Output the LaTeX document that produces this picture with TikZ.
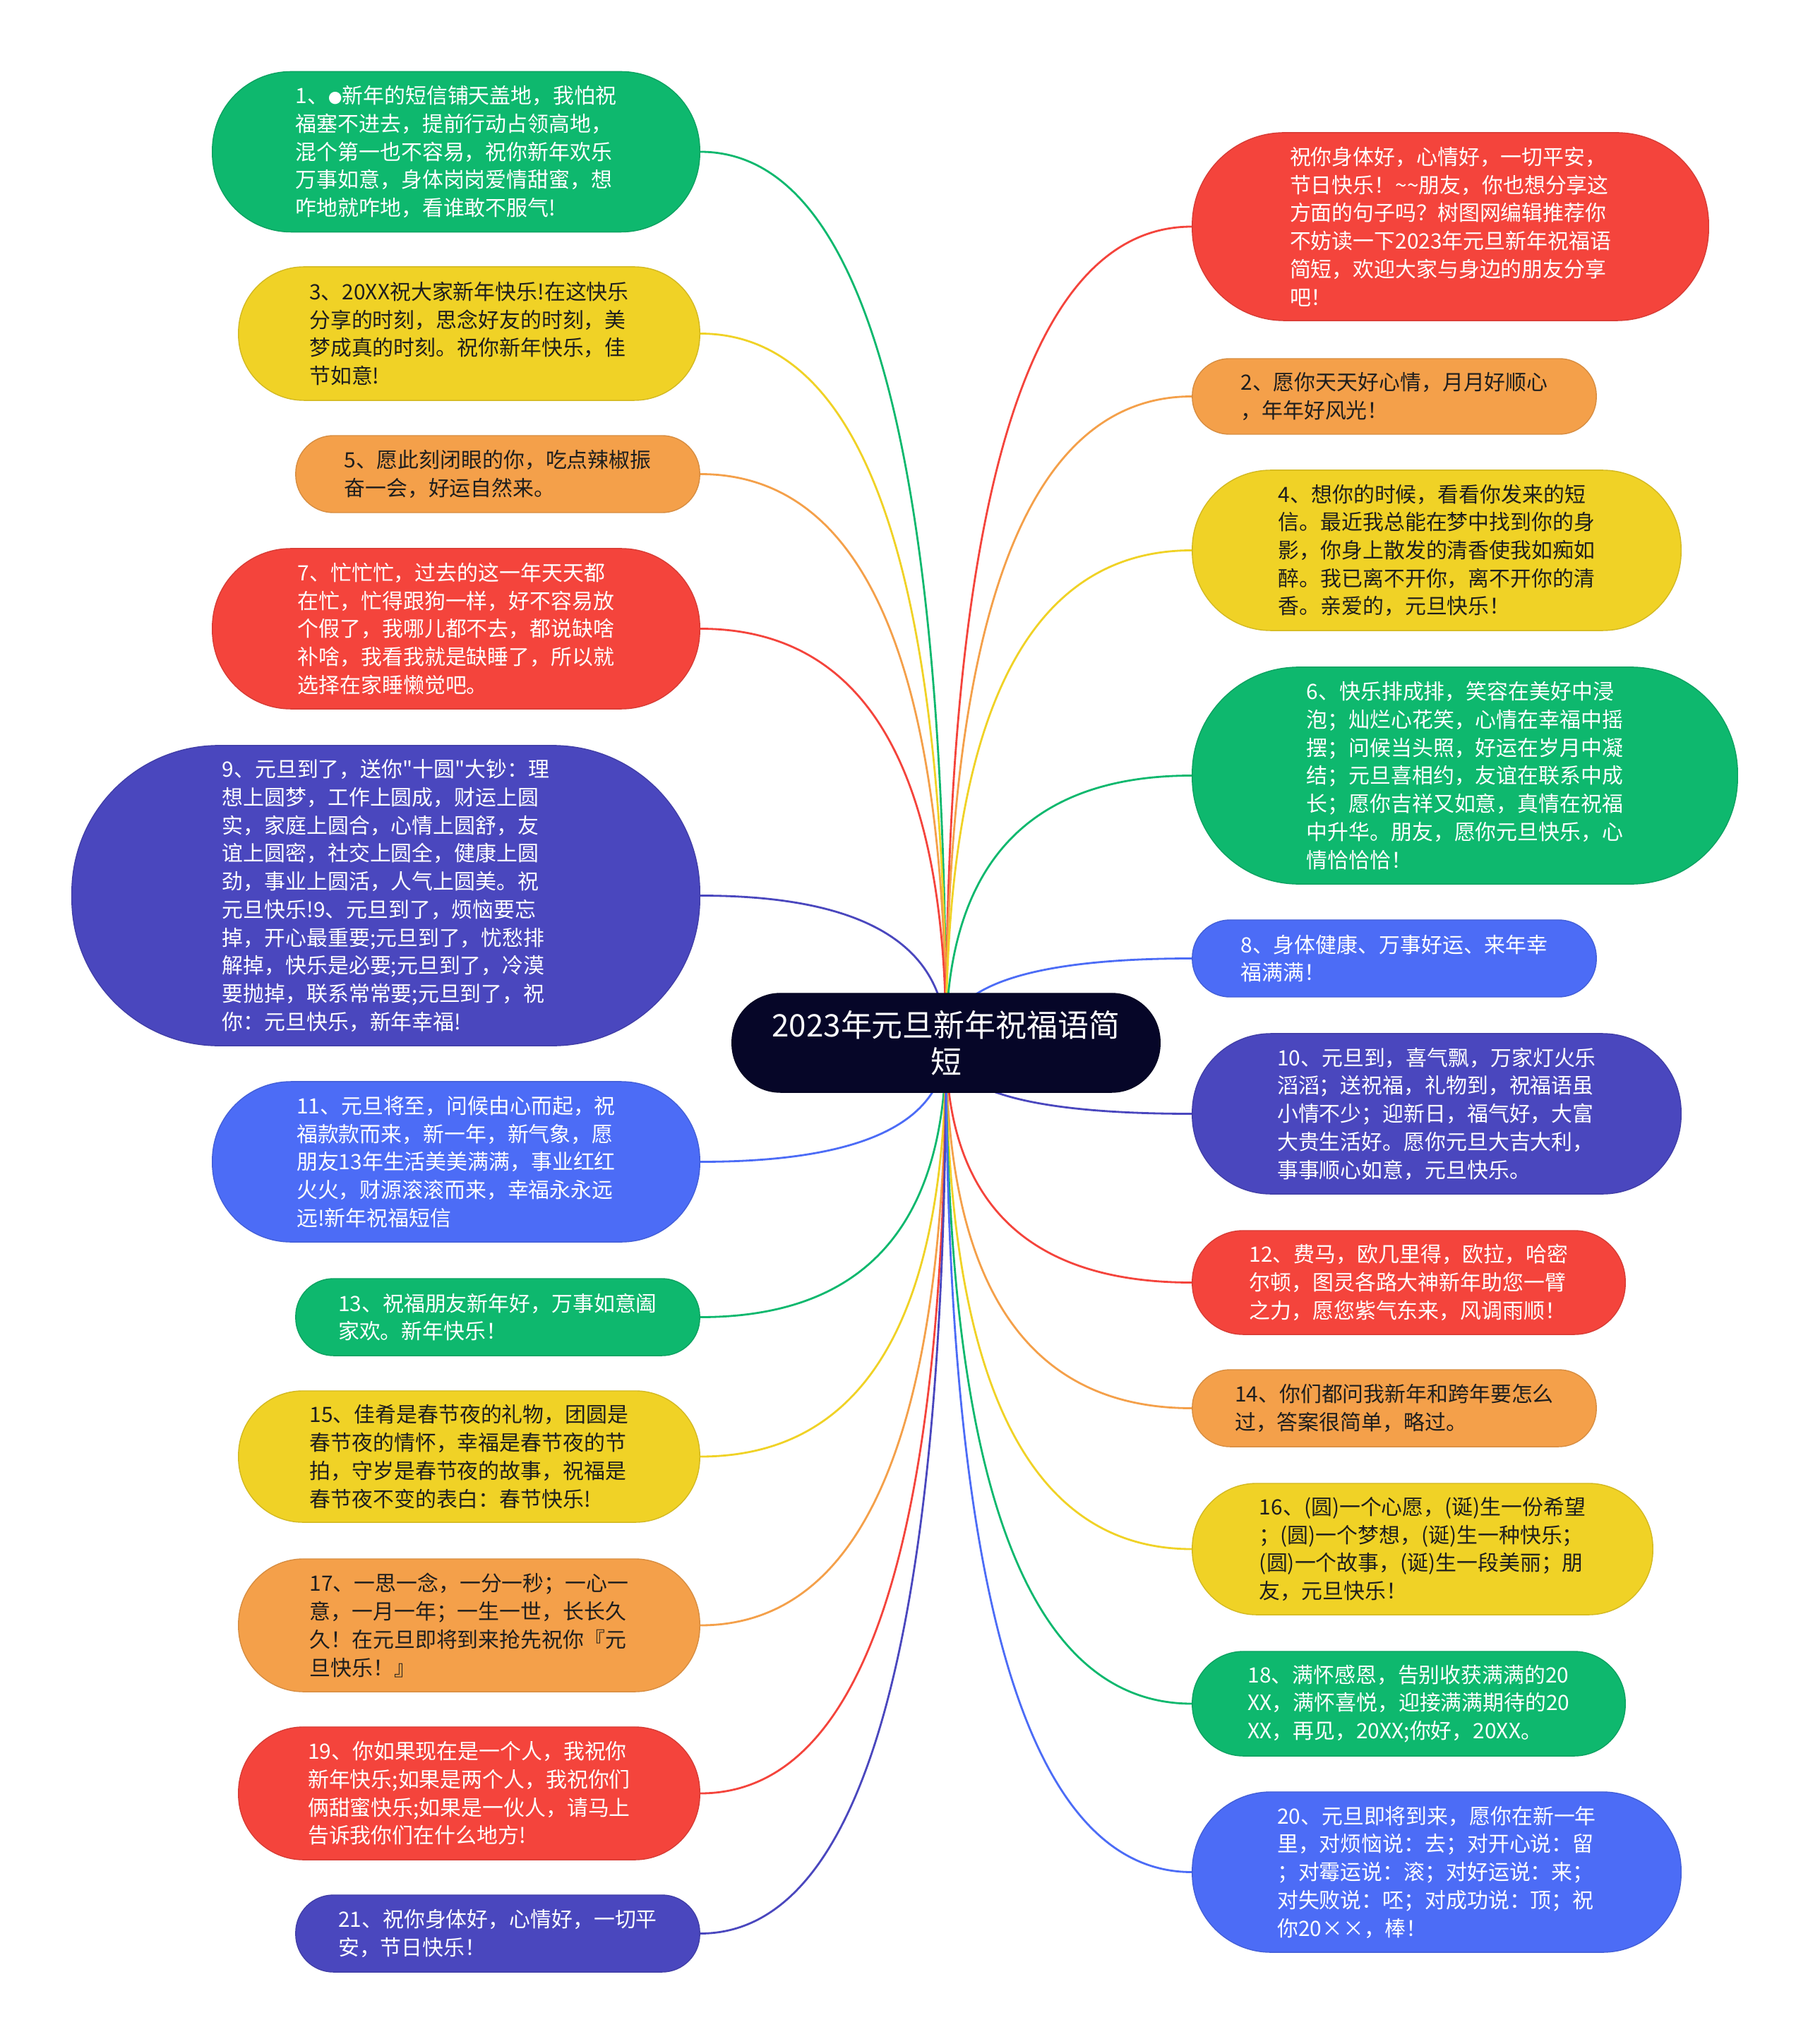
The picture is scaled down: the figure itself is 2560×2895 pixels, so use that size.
\documentclass[tikz,border=0pt]{standalone}
\usepackage{fontspec}
\newfontfamily\cjk{Noto Sans CJK SC}
\usetikzlibrary{backgrounds, calc}

\definecolor{cgreen}{RGB}{14,184,110}
\definecolor{cyellow}{RGB}{240,210,38}
\definecolor{corange}{RGB}{244,160,74}
\definecolor{cred}{RGB}{244,68,60}
\definecolor{cindigo}{RGB}{74,71,190}
\definecolor{cblue}{RGB}{76,108,246}
\definecolor{croot}{RGB}{6,6,40}
\definecolor{inkdark}{RGB}{30,30,30}

\begin{document}
\begin{tikzpicture}[
    x=0.01cm, y=-0.01cm,
    leaf/.style={
        rectangle,
        fill=#1,
        draw=#1!88!black,
        line width=0.4pt,
        text=white,
        align=left,
        font=\cjk\fontsize{8.5}{11.3}\selectfont,
        inner sep=0pt
    },
    pill/.style 2 args={
        minimum width=#1cm,
        minimum height=#2cm,
        rounded corners=0.49*#2cm
    },
    dark/.style={text=inkdark},
    link/.style={
        draw=#1,
        line width=0.8pt,
        to path={.. controls ($(\tikztostart)!0.667!(\tikztostart |- \tikztotarget)$)
            and ($(\tikztotarget)!0.667!(\tikztostart |- \tikztotarget)$) .. (\tikztotarget)}
    }
]
\useasboundingbox (0,0) rectangle (2560,2895);

% --- root ---
\node[leaf=croot, pill={6.06}{1.40}, align=center, font=\cjk\fontsize{12.5}{14.8}\selectfont] (root) at (1340,1477) {2023年元旦新年祝福语简\\短};

% --- left branch ---
\node[leaf=cgreen, pill={6.90}{2.27}] (n1) at (646,215) {1、{\fontsize{5.5}{5.5}\selectfont ●}新年的短信铺天盖地，我怕祝\\福塞不进去，提前行动占领高地，\\混个第一也不容易，祝你新年欢乐\\万事如意，身体岗岗爱情甜蜜，想\\咋地就咋地，看谁敢不服气!};
\node[leaf=cyellow, dark, pill={6.53}{1.89}] (n3) at (664.5,472.5) {3、20XX祝大家新年快乐!在这快乐\\分享的时刻，思念好友的时刻，美\\梦成真的时刻。祝你新年快乐，佳\\节如意!};
\node[leaf=corange, dark, pill={5.72}{1.09}] (n5) at (705,671.5) {5、愿此刻闭眼的你，吃点辣椒振\\奋一会，好运自然来。};
\node[leaf=cred, pill={6.90}{2.27}] (n7) at (646,890.5) {7、忙忙忙，过去的这一年天天都\\在忙，忙得跟狗一样，好不容易放\\个假了，我哪儿都不去，都说缺啥\\补啥，我看我就是缺睡了，所以就\\选择在家睡懒觉吧。};
\node[leaf=cindigo, pill={8.89}{4.25}] (n9) at (546.5,1268.5) {9、元旦到了，送你"十圆"大钞：理\\想上圆梦，工作上圆成，财运上圆\\实，家庭上圆合，心情上圆舒，友\\谊上圆密，社交上圆全，健康上圆\\劲，事业上圆活，人气上圆美。祝\\元旦快乐!9、元旦到了，烦恼要忘\\掉，开心最重要;元旦到了，忧愁排\\解掉，快乐是必要;元旦到了，冷漠\\要抛掉，联系常常要;元旦到了，祝\\你：元旦快乐，新年幸福!};
\node[leaf=cblue, pill={6.90}{2.27}] (n11) at (646,1645.5) {11、元旦将至，问候由心而起，祝\\福款款而来，新一年，新气象，愿\\朋友13年生活美美满满，事业红红\\火火，财源滚滚而来，幸福永永远\\远!新年祝福短信};
\node[leaf=cgreen, pill={5.72}{1.09}] (n13) at (705,1865.5) {13、祝福朋友新年好，万事如意阖\\家欢。新年快乐！};
\node[leaf=cyellow, dark, pill={6.53}{1.86}] (n15) at (664.5,2063) {15、佳肴是春节夜的礼物，团圆是\\春节夜的情怀，幸福是春节夜的节\\拍，守岁是春节夜的故事，祝福是\\春节夜不变的表白：春节快乐!};
\node[leaf=corange, dark, pill={6.53}{1.88}] (n17) at (664.5,2302) {17、一思一念，一分一秒；一心一\\意，一月一年；一生一世，长长久\\久！在元旦即将到来抢先祝你『元\\旦快乐！』};
\node[leaf=cred, pill={6.53}{1.88}] (n19) at (664.5,2540) {19、你如果现在是一个人，我祝你\\新年快乐;如果是两个人，我祝你们\\俩甜蜜快乐;如果是一伙人，请马上\\告诉我你们在什么地方!};
\node[leaf=cindigo, pill={5.72}{1.09}] (n21) at (705,2738.5) {21、祝你身体好，心情好，一切平\\安，节日快乐！};

% --- right branch ---
\node[leaf=cred, pill={7.31}{2.66}] (intro) at (2054.5,321) {祝你身体好，心情好，一切平安，\\节日快乐！\textasciitilde\textasciitilde 朋友，你也想分享这\\方面的句子吗？树图网编辑推荐你\\不妨读一下2023年元旦新年祝福语\\简短，欢迎大家与身边的朋友分享\\吧！};
\node[leaf=corange, dark, pill={5.72}{1.07}] (n2) at (1975,561.5) {2、愿你天天好心情，月月好顺心\\，年年好风光！};
\node[leaf=cyellow, dark, pill={6.92}{2.27}] (n4) at (2035,779.5) {4、想你的时候，看看你发来的短\\信。最近我总能在梦中找到你的身\\影，你身上散发的清香使我如痴如\\醉。我已离不开你，离不开你的清\\香。亲爱的，元旦快乐！};
\node[leaf=cgreen, pill={7.72}{3.07}] (n6) at (2075,1098.5) {6、快乐排成排，笑容在美好中浸\\泡；灿烂心花笑，心情在幸福中摇\\摆；问候当头照，好运在岁月中凝\\结；元旦喜相约，友谊在联系中成\\长；愿你吉祥又如意，真情在祝福\\中升华。朋友，愿你元旦快乐，心\\情恰恰恰！};
\node[leaf=cblue, pill={5.72}{1.09}] (n8) at (1975,1357.5) {8、身体健康、万事好运、来年幸\\福满满！};
\node[leaf=cindigo, pill={6.92}{2.27}] (n10) at (2035,1577.5) {10、元旦到，喜气飘，万家灯火乐\\滔滔；送祝福，礼物到，祝福语虽\\小情不少；迎新日，福气好，大富\\大贵生活好。愿你元旦大吉大利，\\事事顺心如意，元旦快乐。};
\node[leaf=cred, pill={6.13}{1.47}] (n12) at (1995.5,1816.5) {12、费马，欧几里得，欧拉，哈密\\尔顿，图灵各路大神新年助您一臂\\之力，愿您紫气东来，风调雨顺！};
\node[leaf=corange, dark, pill={5.72}{1.09}] (n14) at (1975,1994.5) {14、你们都问我新年和跨年要怎么\\过，答案很简单，略过。};
\node[leaf=cyellow, dark, pill={6.52}{1.86}] (n16) at (2015,2194) {16、(圆)一个心愿，(诞)生一份希望\\；(圆)一个梦想，(诞)生一种快乐；\\(圆)一个故事，(诞)生一段美丽；朋\\友，元旦快乐！};
\node[leaf=cgreen, pill={6.13}{1.48}] (n18) at (1995.5,2413) {18、满怀感恩，告别收获满满的20\\XX，满怀喜悦，迎接满满期待的20\\XX，再见，20XX;你好，20XX。};
\node[leaf=cblue, pill={6.92}{2.27}] (n20) at (2035,2651.5) {20、元旦即将到来，愿你在新一年\\里，对烦恼说：去；对开心说：留\\；对霉运说：滚；对好运说：来；\\对失败说：呸；对成功说：顶；祝\\你20××，棒！};

% --- links, behind the boxes ---
\begin{pgfonlayer}{background}
\draw[link=cgreen] (root.center) to (n1.east);
\draw[link=cyellow] (root.center) to (n3.east);
\draw[link=corange] (root.center) to (n5.east);
\draw[link=cred] (root.center) to (n7.east);
\draw[link=cindigo] (root.center) to (n9.east);
\draw[link=cblue] (root.center) to (n11.east);
\draw[link=cgreen] (root.center) to (n13.east);
\draw[link=cyellow] (root.center) to (n15.east);
\draw[link=corange] (root.center) to (n17.east);
\draw[link=cred] (root.center) to (n19.east);
\draw[link=cindigo] (root.center) to (n21.east);
\draw[link=cred] (root.center) to (intro.west);
\draw[link=corange] (root.center) to (n2.west);
\draw[link=cyellow] (root.center) to (n4.west);
\draw[link=cgreen] (root.center) to (n6.west);
\draw[link=cblue] (root.center) to (n8.west);
\draw[link=cindigo] (root.center) to (n10.west);
\draw[link=cred] (root.center) to (n12.west);
\draw[link=corange] (root.center) to (n14.west);
\draw[link=cyellow] (root.center) to (n16.west);
\draw[link=cgreen] (root.center) to (n18.west);
\draw[link=cblue] (root.center) to (n20.west);
\end{pgfonlayer}

\end{tikzpicture}
\end{document}
